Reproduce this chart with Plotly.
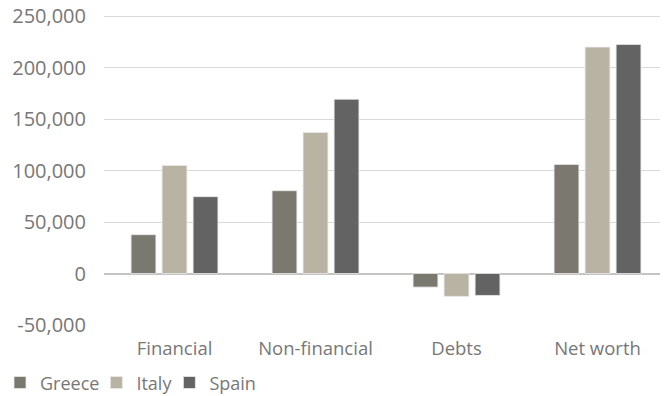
import plotly.graph_objects as go

categories = ["Financial", "Non-financial", "Debts", "Net worth"]
greece = [37700, 80400, -13200, 105900]
italy = [104900, 137000, -22200, 219800]
spain = [74600, 169200, -21300, 222400]
series_names = ["Greece", "Italy", "Spain"]
colors = ["#7b7870", "#b8b3a3", "#636363"]
tick_vals = [-50000, 0, 50000, 100000, 150000, 200000, 250000]
tick_text = ["-50,000", "0", "50,000", "100,000", "150,000", "200,000", "250,000"]

fig = go.Figure()
for name, vals, col in zip(series_names, [greece, italy, spain], colors):
    fig.add_trace(go.Bar(
        x=categories, y=vals, name=name,
        marker=dict(color=col, line=dict(color="#e8e8e8", width=0.8)),
    ))

font_family = "Open Sans, Noto Sans, sans-serif"
text_color = "#777777"
fig.update_layout(
    width=660, height=388,
    margin=dict(l=96, r=0, t=0, b=71),
    paper_bgcolor="white", plot_bgcolor="white",
    barmode="group", bargap=0.34, bargroupgap=0.2,
    font=dict(family=font_family, size=18, color=text_color),
    showlegend=True,
    legend=dict(
        orientation="h", xref="container", yref="container",
        x=0.0, y=0.034, xanchor="left", yanchor="middle",
        font=dict(size=18, color=text_color),
        itemwidth=30, traceorder="normal",
        indentation=-8,
    ),
    xaxis=dict(
        showgrid=False, showline=False, ticks="",
        tickfont=dict(size=18.5, color=text_color),
        ticklabelstandoff=10,
        automargin=False,
    ),
    yaxis=dict(
        range=[-50000, 257770],
        tickvals=tick_vals, ticktext=tick_text,
        showgrid=True, gridcolor="#d9d9d9", gridwidth=1,
        zeroline=True, zerolinecolor="#c4c4c4", zerolinewidth=1.5,
        showline=False, ticks="",
        tickfont=dict(size=20, color=text_color),
        ticklabelstandoff=17,
        ticklabeloverflow="allow",
        automargin=False,
    ),
)

fig.write_html("out.html")
